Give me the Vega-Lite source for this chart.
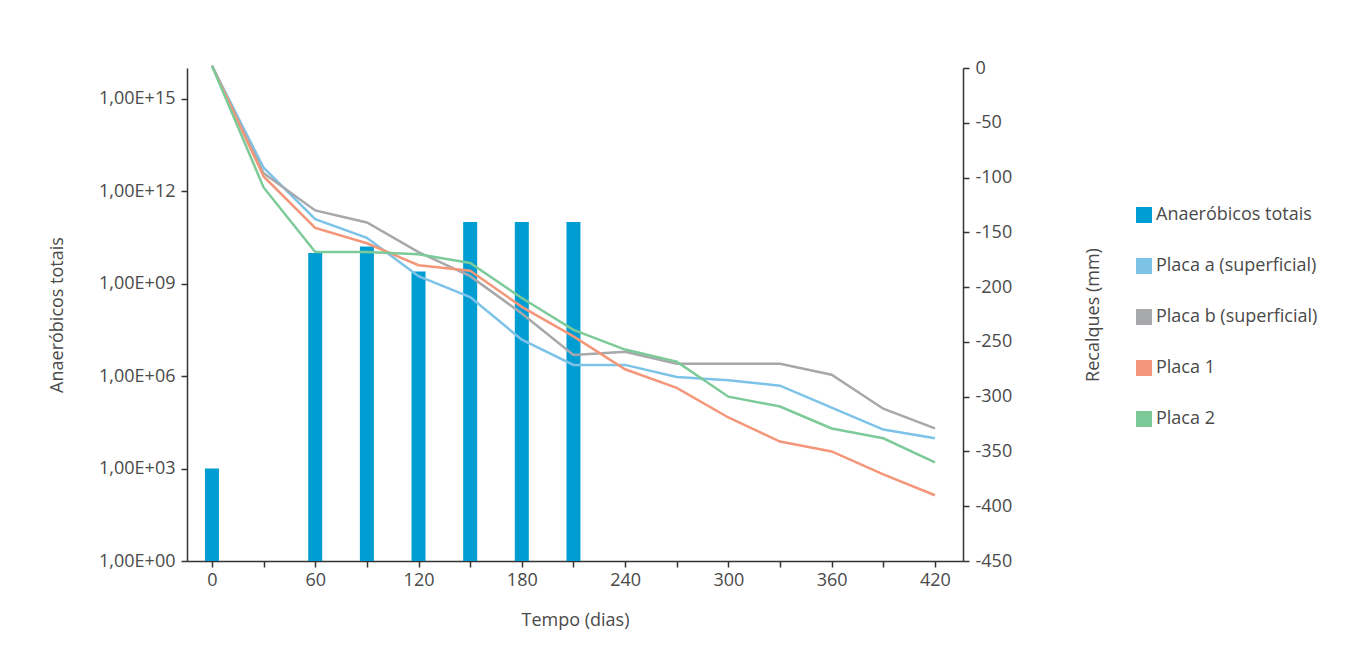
{
  "$schema": "https://vega.github.io/schema/vega-lite/v6.json",
  "width": 776,
  "height": 493,
  "autosize": {"type": "none"},
  "padding": {"left": 187, "top": 68, "right": 409, "bottom": 107},
  "background": "white",
  "config": {
    "view": {"stroke": null},
    "font": "Open Sans",
    "axis": {
      "labelFont": "Open Sans",
      "titleFont": "Open Sans",
      "labelFontSize": 18,
      "titleFontSize": 18,
      "labelColor": "#4a4a4a",
      "titleColor": "#4a4a4a",
      "titleFontWeight": "normal",
      "domainColor": "#333333",
      "domainWidth": 1.5,
      "tickColor": "#333333",
      "tickWidth": 1.5,
      "tickSize": 6,
      "grid": false
    },
    "legend": {
      "labelFont": "Open Sans",
      "labelFontSize": 18,
      "labelColor": "#4a4a4a",
      "labelLimit": 400
    }
  },
  "datasets": {
    "bars": [
      {"tempo": 0, "serie": "Anaeróbicos totais", "valor": 1000},
      {"tempo": 60, "serie": "Anaeróbicos totais", "valor": 1.0e10},
      {"tempo": 90, "serie": "Anaeróbicos totais", "valor": 1.6e10},
      {"tempo": 120, "serie": "Anaeróbicos totais", "valor": 2.5e9},
      {"tempo": 150, "serie": "Anaeróbicos totais", "valor": 1.0e11},
      {"tempo": 180, "serie": "Anaeróbicos totais", "valor": 1.0e11},
      {"tempo": 210, "serie": "Anaeróbicos totais", "valor": 1.0e11}
    ],
    "lines": [
      {"tempo": 0, "serie": "Placa a (superficial)", "recalque": 2},
      {"tempo": 30, "serie": "Placa a (superficial)", "recalque": -91},
      {"tempo": 60, "serie": "Placa a (superficial)", "recalque": -138},
      {"tempo": 90, "serie": "Placa a (superficial)", "recalque": -155},
      {"tempo": 120, "serie": "Placa a (superficial)", "recalque": -190},
      {"tempo": 150, "serie": "Placa a (superficial)", "recalque": -209},
      {"tempo": 180, "serie": "Placa a (superficial)", "recalque": -248},
      {"tempo": 210, "serie": "Placa a (superficial)", "recalque": -271},
      {"tempo": 240, "serie": "Placa a (superficial)", "recalque": -271},
      {"tempo": 270, "serie": "Placa a (superficial)", "recalque": -282},
      {"tempo": 300, "serie": "Placa a (superficial)", "recalque": -285},
      {"tempo": 330, "serie": "Placa a (superficial)", "recalque": -290},
      {"tempo": 360, "serie": "Placa a (superficial)", "recalque": -310},
      {"tempo": 390, "serie": "Placa a (superficial)", "recalque": -330},
      {"tempo": 420, "serie": "Placa a (superficial)", "recalque": -338},
      {"tempo": 0, "serie": "Placa b (superficial)", "recalque": 2},
      {"tempo": 30, "serie": "Placa b (superficial)", "recalque": -96},
      {"tempo": 60, "serie": "Placa b (superficial)", "recalque": -130},
      {"tempo": 90, "serie": "Placa b (superficial)", "recalque": -141},
      {"tempo": 120, "serie": "Placa b (superficial)", "recalque": -168},
      {"tempo": 150, "serie": "Placa b (superficial)", "recalque": -190},
      {"tempo": 180, "serie": "Placa b (superficial)", "recalque": -224},
      {"tempo": 210, "serie": "Placa b (superficial)", "recalque": -262},
      {"tempo": 240, "serie": "Placa b (superficial)", "recalque": -259},
      {"tempo": 270, "serie": "Placa b (superficial)", "recalque": -270},
      {"tempo": 300, "serie": "Placa b (superficial)", "recalque": -270},
      {"tempo": 330, "serie": "Placa b (superficial)", "recalque": -270},
      {"tempo": 360, "serie": "Placa b (superficial)", "recalque": -280},
      {"tempo": 390, "serie": "Placa b (superficial)", "recalque": -311},
      {"tempo": 420, "serie": "Placa b (superficial)", "recalque": -329},
      {"tempo": 0, "serie": "Placa 1", "recalque": 2},
      {"tempo": 30, "serie": "Placa 1", "recalque": -99},
      {"tempo": 60, "serie": "Placa 1", "recalque": -146},
      {"tempo": 90, "serie": "Placa 1", "recalque": -160},
      {"tempo": 120, "serie": "Placa 1", "recalque": -180},
      {"tempo": 150, "serie": "Placa 1", "recalque": -185},
      {"tempo": 180, "serie": "Placa 1", "recalque": -218},
      {"tempo": 210, "serie": "Placa 1", "recalque": -245},
      {"tempo": 240, "serie": "Placa 1", "recalque": -275},
      {"tempo": 270, "serie": "Placa 1", "recalque": -292},
      {"tempo": 300, "serie": "Placa 1", "recalque": -319},
      {"tempo": 330, "serie": "Placa 1", "recalque": -341},
      {"tempo": 360, "serie": "Placa 1", "recalque": -350},
      {"tempo": 390, "serie": "Placa 1", "recalque": -371},
      {"tempo": 420, "serie": "Placa 1", "recalque": -390},
      {"tempo": 0, "serie": "Placa 2", "recalque": 2},
      {"tempo": 30, "serie": "Placa 2", "recalque": -109},
      {"tempo": 60, "serie": "Placa 2", "recalque": -168},
      {"tempo": 90, "serie": "Placa 2", "recalque": -168},
      {"tempo": 120, "serie": "Placa 2", "recalque": -170},
      {"tempo": 150, "serie": "Placa 2", "recalque": -178},
      {"tempo": 180, "serie": "Placa 2", "recalque": -210},
      {"tempo": 210, "serie": "Placa 2", "recalque": -239},
      {"tempo": 240, "serie": "Placa 2", "recalque": -257},
      {"tempo": 270, "serie": "Placa 2", "recalque": -268},
      {"tempo": 300, "serie": "Placa 2", "recalque": -300},
      {"tempo": 330, "serie": "Placa 2", "recalque": -309},
      {"tempo": 360, "serie": "Placa 2", "recalque": -329},
      {"tempo": 390, "serie": "Placa 2", "recalque": -338},
      {"tempo": 420, "serie": "Placa 2", "recalque": -360}
    ]
  },
  "encoding": {
    "x": {
      "field": "tempo",
      "type": "quantitative",
      "scale": {"domain": [-14.5, 436.3], "nice": false, "zero": false, "padding": 0},
      "axis": {
        "title": "Tempo (dias)",
        "values": [0, 30, 60, 90, 120, 150, 180, 210, 240, 270, 300, 330, 360, 390, 420],
        "labelExpr": "datum.value % 60 === 0 ? datum.label : ''",
        "labelPadding": 4,
        "titlePadding": 22
      }
    },
    "color": {
      "field": "serie",
      "type": "nominal",
      "scale": {
        "domain": ["Anaeróbicos totais", "Placa a (superficial)", "Placa b (superficial)", "Placa 1", "Placa 2"],
        "range": ["#009dd3", "#7dc3e8", "#a7a8ab", "#f4967a", "#7dca99"]
      },
      "legend": {
        "title": null,
        "orient": "none",
        "legendX": 948,
        "legendY": 138,
        "symbolType": "square",
        "symbolSize": 256,
        "symbolStrokeWidth": 0,
        "rowPadding": 33,
        "labelOffset": 3,
        "encode": {
          "symbols": {
            "update": {
              "fill": {"scale": "color", "field": "value"},
              "fillOpacity": {"value": 1},
              "strokeWidth": {"value": 0}
            }
          }
        }
      }
    }
  },
  "layer": [
    {
      "data": {"name": "bars"},
      "mark": {"type": "bar", "width": 14},
      "encoding": {
        "y": {
          "field": "valor",
          "type": "quantitative",
          "scale": {"type": "log", "domain": [1, 1e16], "nice": false},
          "axis": {
            "title": "Anaeróbicos totais",
            "orient": "left",
            "values": [1, 1000, 1000000, 1000000000, 1000000000000, 1000000000000000],
            "labelExpr": "'1,00E+' + (round(log(datum.value)/LN10) < 10 ? '0' : '') + format(round(log(datum.value)/LN10), 'd')",
            "labelPadding": 6,
            "titlePadding": 32
          }
        },
        "y2": {"datum": 1}
      }
    },
    {
      "data": {"name": "lines"},
      "mark": {"type": "line", "strokeWidth": 2.5},
      "encoding": {
        "y": {
          "field": "recalque",
          "type": "quantitative",
          "scale": {"domain": [-450, 0], "nice": false, "zero": false},
          "axis": {
            "title": "Recalques (mm)",
            "orient": "right",
            "values": [0, -50, -100, -150, -200, -250, -300, -350, -400, -450],
            "labelExpr": "replace(datum.label, '−', '-')",
            "labelPadding": 6,
            "titleAngle": 270,
            "titlePadding": 91
          }
        }
      }
    }
  ],
  "resolve": {"scale": {"y": "independent"}}
}
